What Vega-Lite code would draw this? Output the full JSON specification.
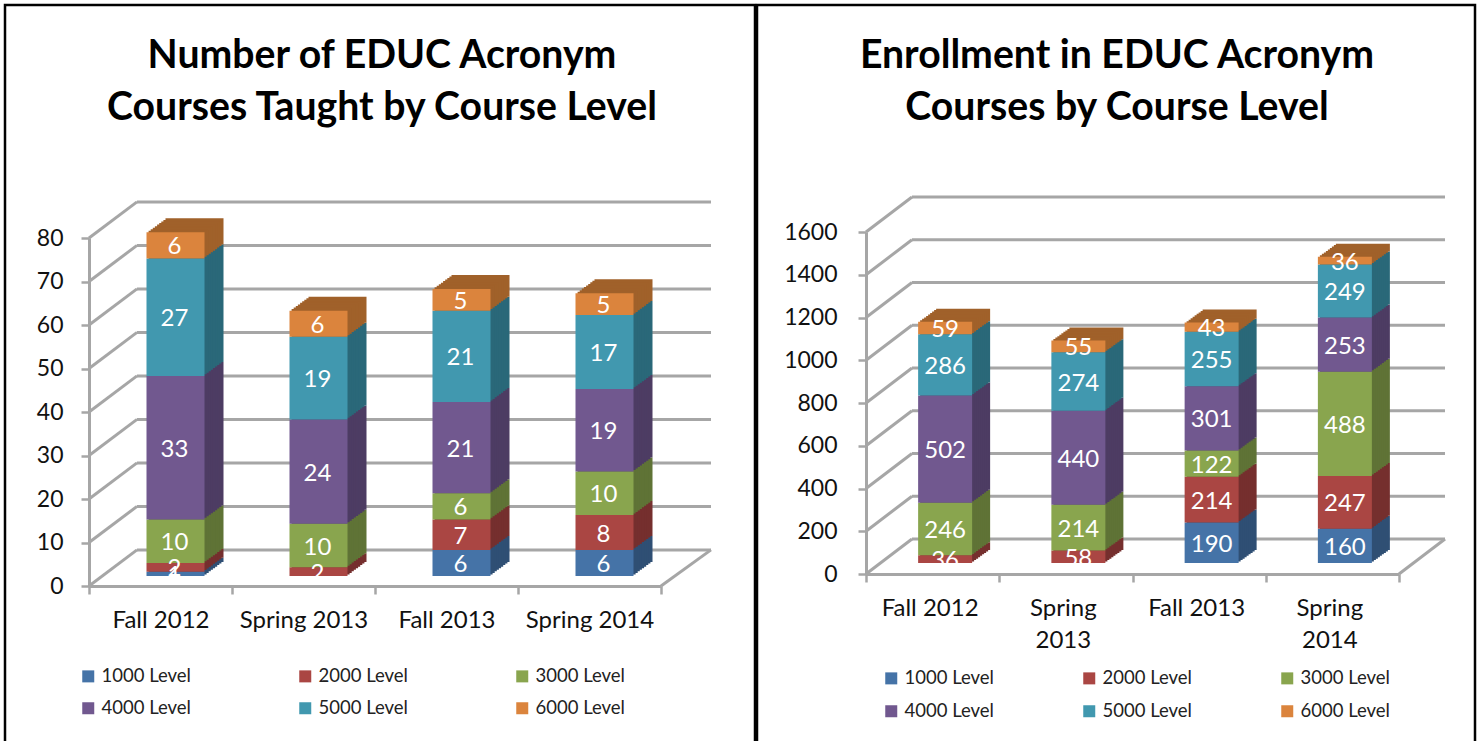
{"$schema":"https://vega.github.io/schema/vega-lite/v6.json","padding":{"left":3,"top":3,"right":0,"bottom":0},"autosize":{"type":"pad"},"background":"white","spacing":-3,"resolve":{"scale":{"color":"independent","fill":"independent"},"legend":{"color":"independent","fill":"independent"}},"config":{"font":"Lato","view":{"stroke":"black","strokeWidth":2.5,"fill":"white"},"axis":{"domainColor":"#a6a6a6","domainWidth":3,"tickColor":"#a6a6a6","tickWidth":2.5,"tickSize":8,"labelColor":"#111111","labelFontSize":24,"grid":false,"title":null}},"datasets":{"courses":[{"period":"Fall 2012","level":"1000 Level","value":1},{"period":"Fall 2012","level":"2000 Level","value":2},{"period":"Fall 2012","level":"3000 Level","value":10},{"period":"Fall 2012","level":"4000 Level","value":33},{"period":"Fall 2012","level":"5000 Level","value":27},{"period":"Fall 2012","level":"6000 Level","value":6},{"period":"Spring 2013","level":"2000 Level","value":2},{"period":"Spring 2013","level":"3000 Level","value":10},{"period":"Spring 2013","level":"4000 Level","value":24},{"period":"Spring 2013","level":"5000 Level","value":19},{"period":"Spring 2013","level":"6000 Level","value":6},{"period":"Fall 2013","level":"1000 Level","value":6},{"period":"Fall 2013","level":"2000 Level","value":7},{"period":"Fall 2013","level":"3000 Level","value":6},{"period":"Fall 2013","level":"4000 Level","value":21},{"period":"Fall 2013","level":"5000 Level","value":21},{"period":"Fall 2013","level":"6000 Level","value":5},{"period":"Spring 2014","level":"1000 Level","value":6},{"period":"Spring 2014","level":"2000 Level","value":8},{"period":"Spring 2014","level":"3000 Level","value":10},{"period":"Spring 2014","level":"4000 Level","value":19},{"period":"Spring 2014","level":"5000 Level","value":17},{"period":"Spring 2014","level":"6000 Level","value":5}],"enrollment":[{"period":"Fall 2012","level":"2000 Level","value":36},{"period":"Fall 2012","level":"3000 Level","value":246},{"period":"Fall 2012","level":"4000 Level","value":502},{"period":"Fall 2012","level":"5000 Level","value":286},{"period":"Fall 2012","level":"6000 Level","value":59},{"period":"Spring 2013","level":"2000 Level","value":58},{"period":"Spring 2013","level":"3000 Level","value":214},{"period":"Spring 2013","level":"4000 Level","value":440},{"period":"Spring 2013","level":"5000 Level","value":274},{"period":"Spring 2013","level":"6000 Level","value":55},{"period":"Fall 2013","level":"1000 Level","value":190},{"period":"Fall 2013","level":"2000 Level","value":214},{"period":"Fall 2013","level":"3000 Level","value":122},{"period":"Fall 2013","level":"4000 Level","value":301},{"period":"Fall 2013","level":"5000 Level","value":255},{"period":"Fall 2013","level":"6000 Level","value":43},{"period":"Spring 2014","level":"1000 Level","value":160},{"period":"Spring 2014","level":"2000 Level","value":247},{"period":"Spring 2014","level":"3000 Level","value":488},{"period":"Spring 2014","level":"4000 Level","value":253},{"period":"Spring 2014","level":"5000 Level","value":249},{"period":"Spring 2014","level":"6000 Level","value":36}],"wallsLeft":[{"from":0,"to":48,"v":0,"v2":8.3},{"from":0,"to":48,"v":10,"v2":18.3},{"from":0,"to":48,"v":20,"v2":28.3},{"from":0,"to":48,"v":30,"v2":38.3},{"from":0,"to":48,"v":40,"v2":48.3},{"from":0,"to":48,"v":50,"v2":58.3},{"from":0,"to":48,"v":60,"v2":68.3},{"from":0,"to":48,"v":70,"v2":78.3},{"from":0,"to":48,"v":80,"v2":88.3},{"from":48,"to":622,"v":8.3,"v2":8.3},{"from":48,"to":622,"v":18.3,"v2":18.3},{"from":48,"to":622,"v":28.3,"v2":28.3},{"from":48,"to":622,"v":38.3,"v2":38.3},{"from":48,"to":622,"v":48.3,"v2":48.3},{"from":48,"to":622,"v":58.3,"v2":58.3},{"from":48,"to":622,"v":68.3,"v2":68.3},{"from":48,"to":622,"v":78.3,"v2":78.3},{"from":48,"to":622,"v":88.3,"v2":88.3},{"from":572,"to":622,"v":0,"v2":8.3}],"wallsRight":[{"from":0,"to":46,"v":0,"v2":164},{"from":0,"to":46,"v":200,"v2":364},{"from":0,"to":46,"v":400,"v2":564},{"from":0,"to":46,"v":600,"v2":764},{"from":0,"to":46,"v":800,"v2":964},{"from":0,"to":46,"v":1000,"v2":1164},{"from":0,"to":46,"v":1200,"v2":1364},{"from":0,"to":46,"v":1400,"v2":1564},{"from":0,"to":46,"v":1600,"v2":1764},{"from":46,"to":579,"v":164,"v2":164},{"from":46,"to":579,"v":364,"v2":364},{"from":46,"to":579,"v":564,"v2":564},{"from":46,"to":579,"v":764,"v2":764},{"from":46,"to":579,"v":964,"v2":964},{"from":46,"to":579,"v":1164,"v2":1164},{"from":46,"to":579,"v":1364,"v2":1364},{"from":46,"to":579,"v":1564,"v2":1564},{"from":46,"to":579,"v":1764,"v2":1764},{"from":533,"to":579,"v":0,"v2":164}]},"hconcat":[{"width":750,"height":738,"title":{"text":["Number of EDUC Acronym","Courses Taught by Course Level"],"fontSize":39.2,"fontWeight":"bold","font":"Lato","lineHeight":52,"anchor":"middle","baseline":"top","offset":-123,"dx":2,"color":"black"},"resolve":{"scale":{"x":"independent"},"axis":{"x":"independent"}},"layer":[{"data":{"name":"wallsLeft"},"mark":{"type":"rule","color":"#a6a6a6","strokeWidth":3},"encoding":{"x":{"field":"from","type":"quantitative","axis":null,"scale":{"domain":[0,622],"range":[84,706]}},"x2":{"field":"to"},"y":{"field":"v","type":"quantitative","axis":{"values":[0,10,20,30,40,50,60,70,80],"offset":-84,"labelPadding":18,"labelFontSize":23,"format":"d"},"scale":{"domain":[0,80],"range":[581,233]}},"y2":{"field":"v2"}}},{"data":{"name":"courses"},"transform":[{"stack":"value","groupby":["period"],"sort":[{"field":"level","order":"ascending"}],"as":["y0","y1"]},{"calculate":"(datum.y0+datum.y1)/2","as":"mid"}],"encoding":{"x":{"field":"period","type":"nominal","axis":{"orient":"bottom","offset":-157,"labelAngle":0,"tickBand":"extent","labelPadding":14},"scale":{"domain":["Fall 2012","Spring 2013","Fall 2013","Spring 2014"],"range":[84,656],"paddingInner":0,"paddingOuter":0}},"y":{"field":"y0","type":"quantitative","axis":{"values":[0,10,20,30,40,50,60,70,80],"offset":-84,"labelPadding":18,"labelFontSize":23,"format":"d"},"scale":{"domain":[0,80],"range":[581,233]}},"y2":{"field":"y1"}},"layer":[{"mark":{"type":"bar","size":58,"xOffset":34,"yOffset":-24,"y2Offset":-24},"encoding":{"fill":{"field":"level","type":"nominal","legend":null,"scale":{"domain":["6000 Level","5000 Level","4000 Level","3000 Level","2000 Level","1000 Level"],"range":["#a0612a","#2a6879","#4d3c63","#5f7336","#752f2e","#2f4f74"]}}}},{"mark":{"type":"bar","size":58,"xOffset":31.9,"yOffset":-22.4,"y2Offset":-22.4},"encoding":{"fill":{"field":"level","type":"nominal","legend":null}}},{"mark":{"type":"bar","size":58,"xOffset":29.8,"yOffset":-20.9,"y2Offset":-20.9},"encoding":{"fill":{"field":"level","type":"nominal","legend":null}}},{"mark":{"type":"bar","size":58,"xOffset":27.7,"yOffset":-19.3,"y2Offset":-19.3},"encoding":{"fill":{"field":"level","type":"nominal","legend":null}}},{"mark":{"type":"bar","size":58,"xOffset":25.6,"yOffset":-17.8,"y2Offset":-17.8},"encoding":{"fill":{"field":"level","type":"nominal","legend":null}}},{"mark":{"type":"bar","size":58,"xOffset":23.4,"yOffset":-16.2,"y2Offset":-16.2},"encoding":{"fill":{"field":"level","type":"nominal","legend":null}}},{"mark":{"type":"bar","size":58,"xOffset":21.3,"yOffset":-14.7,"y2Offset":-14.7},"encoding":{"fill":{"field":"level","type":"nominal","legend":null}}},{"mark":{"type":"bar","size":58,"xOffset":19.2,"yOffset":-13.1,"y2Offset":-13.1},"encoding":{"fill":{"field":"level","type":"nominal","legend":null}}},{"mark":{"type":"bar","size":58,"xOffset":17.1,"yOffset":-11.6,"y2Offset":-11.6},"encoding":{"fill":{"field":"level","type":"nominal","legend":null}}},{"mark":{"type":"bar","size":58,"xOffset":15,"yOffset":-10,"y2Offset":-10},"encoding":{"color":{"field":"level","type":"nominal","scale":{"domain":["1000 Level","2000 Level","3000 Level","4000 Level","5000 Level","6000 Level"],"range":["#4573a7","#aa4643","#89a54e","#71588f","#4198af","#db843d"]},"legend":{"title":null,"orient":"none","direction":"horizontal","legendX":74,"legendY":662,"columns":3,"columnPadding":105,"rowPadding":13,"symbolType":"square","symbolSize":144,"symbolStrokeWidth":0,"labelFontSize":18.5,"labelColor":"#222222","labelLimit":200}}}},{"mark":{"type":"text","color":"white","fontSize":24,"dx":14,"dy":-8,"baseline":"middle"},"encoding":{"y":{"field":"mid","type":"quantitative","axis":{"values":[0,10,20,30,40,50,60,70,80],"offset":-84,"labelPadding":18,"labelFontSize":23,"format":"d"}},"y2":null,"text":{"field":"value","type":"quantitative"}}}]}]},{"width":718,"height":738,"title":{"text":["Enrollment in EDUC Acronym","Courses by Course Level"],"fontSize":39.2,"fontWeight":"bold","font":"Lato","lineHeight":52,"anchor":"middle","baseline":"top","offset":-123,"dx":1,"color":"black"},"resolve":{"scale":{"x":"independent"},"axis":{"x":"independent"}},"layer":[{"data":{"name":"wallsRight"},"mark":{"type":"rule","color":"#a6a6a6","strokeWidth":3},"encoding":{"x":{"field":"from","type":"quantitative","axis":null,"scale":{"domain":[0,577],"range":[109,686]}},"x2":{"field":"to"},"y":{"field":"v","type":"quantitative","axis":{"values":[0,200,400,600,800,1000,1200,1400,1600],"offset":-109,"labelPadding":21,"labelFontSize":23,"format":"d"},"scale":{"domain":[0,1600],"range":[569,227]}},"y2":{"field":"v2"}}},{"data":{"name":"enrollment"},"transform":[{"stack":"value","groupby":["period"],"sort":[{"field":"level","order":"ascending"}],"as":["y0","y1"]},{"calculate":"(datum.y0+datum.y1)/2","as":"mid"}],"encoding":{"x":{"field":"period","type":"nominal","axis":{"orient":"bottom","offset":-169,"labelAngle":0,"tickBand":"extent","labelPadding":14,"labelOffset":-3,"labelLineHeight":32,"labelExpr":"indexof(datum.label,'Spring')==0 ? split(datum.label,' ') : datum.label"},"scale":{"domain":["Fall 2012","Spring 2013","Fall 2013","Spring 2014"],"range":[109,642],"paddingInner":0,"paddingOuter":0}},"y":{"field":"y0","type":"quantitative","axis":{"values":[0,200,400,600,800,1000,1200,1400,1600],"offset":-109,"labelPadding":21,"labelFontSize":23,"format":"d"},"scale":{"domain":[0,1600],"range":[569,227]}},"y2":{"field":"y1"}},"layer":[{"mark":{"type":"bar","size":54,"xOffset":30.5,"yOffset":-24,"y2Offset":-24},"encoding":{"fill":{"field":"level","type":"nominal","legend":null,"scale":{"domain":["6000 Level","5000 Level","4000 Level","3000 Level","2000 Level","1000 Level"],"range":["#a0612a","#2a6879","#4d3c63","#5f7336","#752f2e","#2f4f74"]}}}},{"mark":{"type":"bar","size":54,"xOffset":28.5,"yOffset":-22.6,"y2Offset":-22.6},"encoding":{"fill":{"field":"level","type":"nominal","legend":null}}},{"mark":{"type":"bar","size":54,"xOffset":26.5,"yOffset":-21.1,"y2Offset":-21.1},"encoding":{"fill":{"field":"level","type":"nominal","legend":null}}},{"mark":{"type":"bar","size":54,"xOffset":24.5,"yOffset":-19.7,"y2Offset":-19.7},"encoding":{"fill":{"field":"level","type":"nominal","legend":null}}},{"mark":{"type":"bar","size":54,"xOffset":22.5,"yOffset":-18.2,"y2Offset":-18.2},"encoding":{"fill":{"field":"level","type":"nominal","legend":null}}},{"mark":{"type":"bar","size":54,"xOffset":20.5,"yOffset":-16.8,"y2Offset":-16.8},"encoding":{"fill":{"field":"level","type":"nominal","legend":null}}},{"mark":{"type":"bar","size":54,"xOffset":18.5,"yOffset":-15.3,"y2Offset":-15.3},"encoding":{"fill":{"field":"level","type":"nominal","legend":null}}},{"mark":{"type":"bar","size":54,"xOffset":16.5,"yOffset":-13.9,"y2Offset":-13.9},"encoding":{"fill":{"field":"level","type":"nominal","legend":null}}},{"mark":{"type":"bar","size":54,"xOffset":14.5,"yOffset":-12.4,"y2Offset":-12.4},"encoding":{"fill":{"field":"level","type":"nominal","legend":null}}},{"mark":{"type":"bar","size":54,"xOffset":12.5,"yOffset":-11,"y2Offset":-11},"encoding":{"color":{"field":"level","type":"nominal","scale":{"domain":["1000 Level","2000 Level","3000 Level","4000 Level","5000 Level","6000 Level"],"range":["#4573a7","#aa4643","#89a54e","#71588f","#4198af","#db843d"]},"legend":{"title":null,"orient":"none","direction":"horizontal","legendX":125,"legendY":664,"columns":3,"columnPadding":86,"rowPadding":14,"symbolType":"square","symbolSize":144,"symbolStrokeWidth":0,"labelFontSize":18.5,"labelOffset":4,"labelColor":"#222222","labelLimit":200}}}},{"mark":{"type":"text","color":"white","fontSize":24,"dx":12.5,"dy":-9,"baseline":"middle"},"encoding":{"y":{"field":"mid","type":"quantitative","axis":{"values":[0,200,400,600,800,1000,1200,1400,1600],"offset":-109,"labelPadding":21,"labelFontSize":23,"format":"d"}},"y2":null,"text":{"field":"value","type":"quantitative"}}}]}]}]}
